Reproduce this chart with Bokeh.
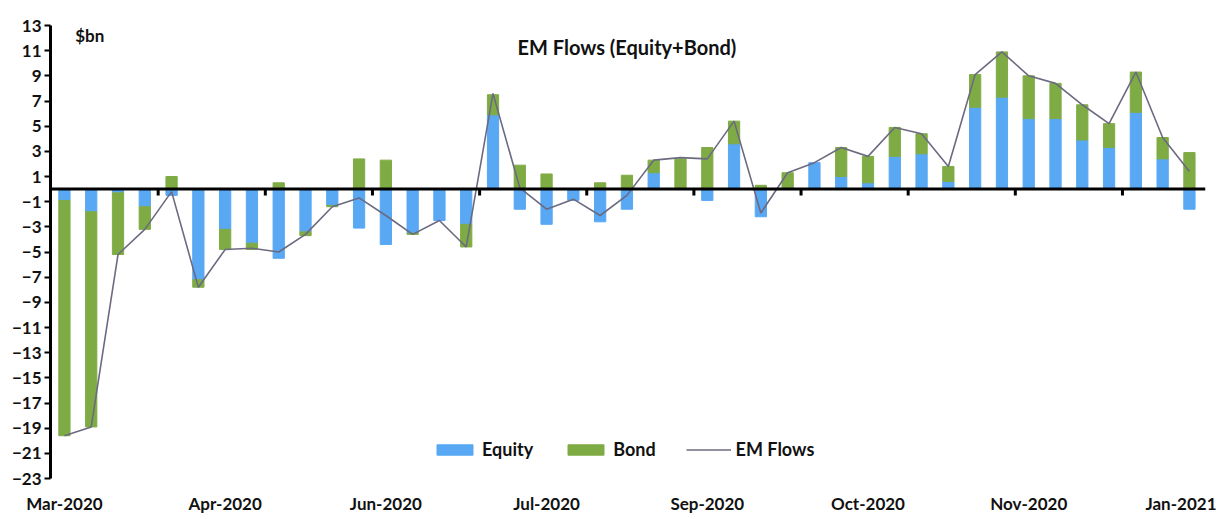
from bokeh.plotting import figure
from bokeh.models import Range1d, FixedTicker, Span, ColumnDataSource
from bokeh.core.properties import value
from bokeh.embed import file_html
from bokeh.resources import INLINE

# ---- data (weekly EM flows, $bn) ----
equity = [-0.9, -1.8, -0.3, -1.4, -0.5, -7.2, -3.2, -4.3, -5.5, -3.4, -1.3, -3.1, -4.4, -3.5,
          -2.5, -2.8, 5.9, -1.6, -2.8, -0.9, -2.6, -1.6, 1.3, 0.0, -0.9, 3.6, -2.2, 0.0, 2.1,
          1.0, 0.5, 2.6, 2.8, 0.6, 6.5, 7.3, 5.6, 5.6, 3.9, 3.3, 6.1, 2.4, -1.6]
bond = [-18.7, -17.1, -4.9, -1.8, 1.0, -0.6, -1.6, -0.5, 0.5, -0.3, -0.1, 2.4, 2.3, -0.1,
        0.0, -1.8, 1.6, 1.9, 1.2, 0.0, 0.5, 1.1, 1.0, 2.4, 3.3, 1.8, 0.3, 1.3, 0.0,
        2.3, 2.1, 2.3, 1.6, 1.2, 2.6, 3.6, 3.4, 2.8, 2.8, 1.9, 3.2, 1.7, 2.9]
em_flows = [-19.6, -18.9, -5.2, -3.2, -0.2, -7.8, -4.8, -4.7, -5.0, -3.6, -1.4, -0.7, -2.1, -3.6,
            -2.5, -4.6, 7.6, 0.1, -1.6, -0.8, -2.1, -0.5, 2.3, 2.5, 2.4, 5.4, -1.9, 1.3, 2.1,
            3.3, 2.6, 4.9, 4.4, 1.8, 9.1, 10.9, 9.0, 8.4, 6.7, 5.2, 9.3, 4.1, 1.4]
x_tick_labels = ["Mar-2020", "Apr-2020", "Jun-2020", "Jul-2020", "Sep-2020",
                 "Oct-2020", "Nov-2020", "Jan-2021"]
y_ticks = list(range(-23, 14, 2))

BLUE = "#58a8f4"
GREEN = "#7fab45"
LINE = "#6c6a80"
FONT = "Lato"

n = len(equity)
xs = list(range(n))

# Excel-style stacking: positives stack up from 0, negatives down from 0
eq_bottom, eq_top, bd_bottom, bd_top = [], [], [], []
for e, b in zip(equity, bond):
    eq_bottom.append(0.0)
    eq_top.append(e)
    if (e < 0 and b < 0) or (e > 0 and b > 0):
        bd_bottom.append(e)
        bd_top.append(e + b)
    else:
        bd_bottom.append(0.0)
        bd_top.append(b)

src = ColumnDataSource(dict(x=xs, eb=eq_bottom, et=eq_top, bb=bd_bottom, bt=bd_top, f=em_flows))

p = figure(width=1216, height=516, output_backend="svg", toolbar_location=None,
           x_range=Range1d(-0.52, 42.6), y_range=Range1d(-23, 13),
           min_border_left=50, min_border_right=11, min_border_top=25, min_border_bottom=20)
p.outline_line_color = None
p.xgrid.grid_line_color = None
p.ygrid.grid_line_color = None
p.background_fill_color = "white"
p.border_fill_color = "white"

p.vbar(x="x", bottom="eb", top="et", width=0.42, color=BLUE, source=src, legend_label="Equity")
p.vbar(x="x", bottom="bb", top="bt", width=0.42, color=GREEN, source=src, legend_label="Bond")

# zero axis line with category tick marks
p.add_layout(Span(location=0, dimension="width", line_color="black", line_width=3))
bounds = [i + 0.5 for i in range(3, n - 1, 4)]
p.segment(x0=bounds, y0=[0] * len(bounds), x1=bounds, y1=[-0.5] * len(bounds),
          line_color="black", line_width=3)

p.line(x="x", y="f", color=LINE, line_width=1.6, source=src, legend_label="EM Flows")

# axes
p.yaxis.ticker = FixedTicker(ticks=y_ticks)
p.yaxis.axis_line_width = 3
p.yaxis.axis_line_color = "black"
p.yaxis.major_tick_line_width = 2
p.yaxis.major_tick_line_color = "black"
p.yaxis.major_tick_out = 6
p.yaxis.major_tick_in = 0
p.yaxis.minor_tick_line_color = None
p.yaxis.major_label_standoff = 3
p.yaxis.major_label_text_font = FONT
p.yaxis.major_label_text_font_style = "bold"
p.yaxis.major_label_text_font_size = "17px"
p.yaxis.major_label_text_color = "#111111"

xt = list(range(0, n, 6))
p.xaxis.ticker = FixedTicker(ticks=xt)
p.xaxis.major_label_overrides = {t: lab for t, lab in zip(xt, x_tick_labels)}
p.xaxis.axis_line_color = None
p.xaxis.major_tick_line_color = None
p.xaxis.minor_tick_line_color = None
p.xaxis.major_label_standoff = 8
p.xaxis.major_label_text_font = FONT
p.xaxis.major_label_text_font_style = "bold"
p.xaxis.major_label_text_font_size = "17px"
p.xaxis.major_label_text_color = "#111111"

# title and unit label inside the plot
p.text(x=[21], y=[11.3], text=["EM Flows (Equity+Bond)"], text_align="center",
       text_baseline="middle", text_font=value(FONT), text_font_style="bold",
       text_font_size="20px", text_color="#111111")
p.text(x=[0.4], y=[12.2], text=["$bn"], text_align="left", text_baseline="middle",
       text_font=value(FONT), text_font_style="bold", text_font_size="17px",
       text_color="#111111")

# legend
lg = p.legend[0]
lg.orientation = "horizontal"
lg.location = (382, 18)
lg.background_fill_alpha = 0
lg.border_line_color = None
lg.padding = 0
lg.margin = 0
lg.spacing = 30
lg.glyph_width = 45
lg.glyph_height = 13
lg.label_standoff = 5
lg.label_text_font = FONT
lg.label_text_font_style = "bold"
lg.label_text_font_size = "18px"
lg.label_text_color = "#111111"

open("out.html", "w").write(file_html(p, INLINE))
